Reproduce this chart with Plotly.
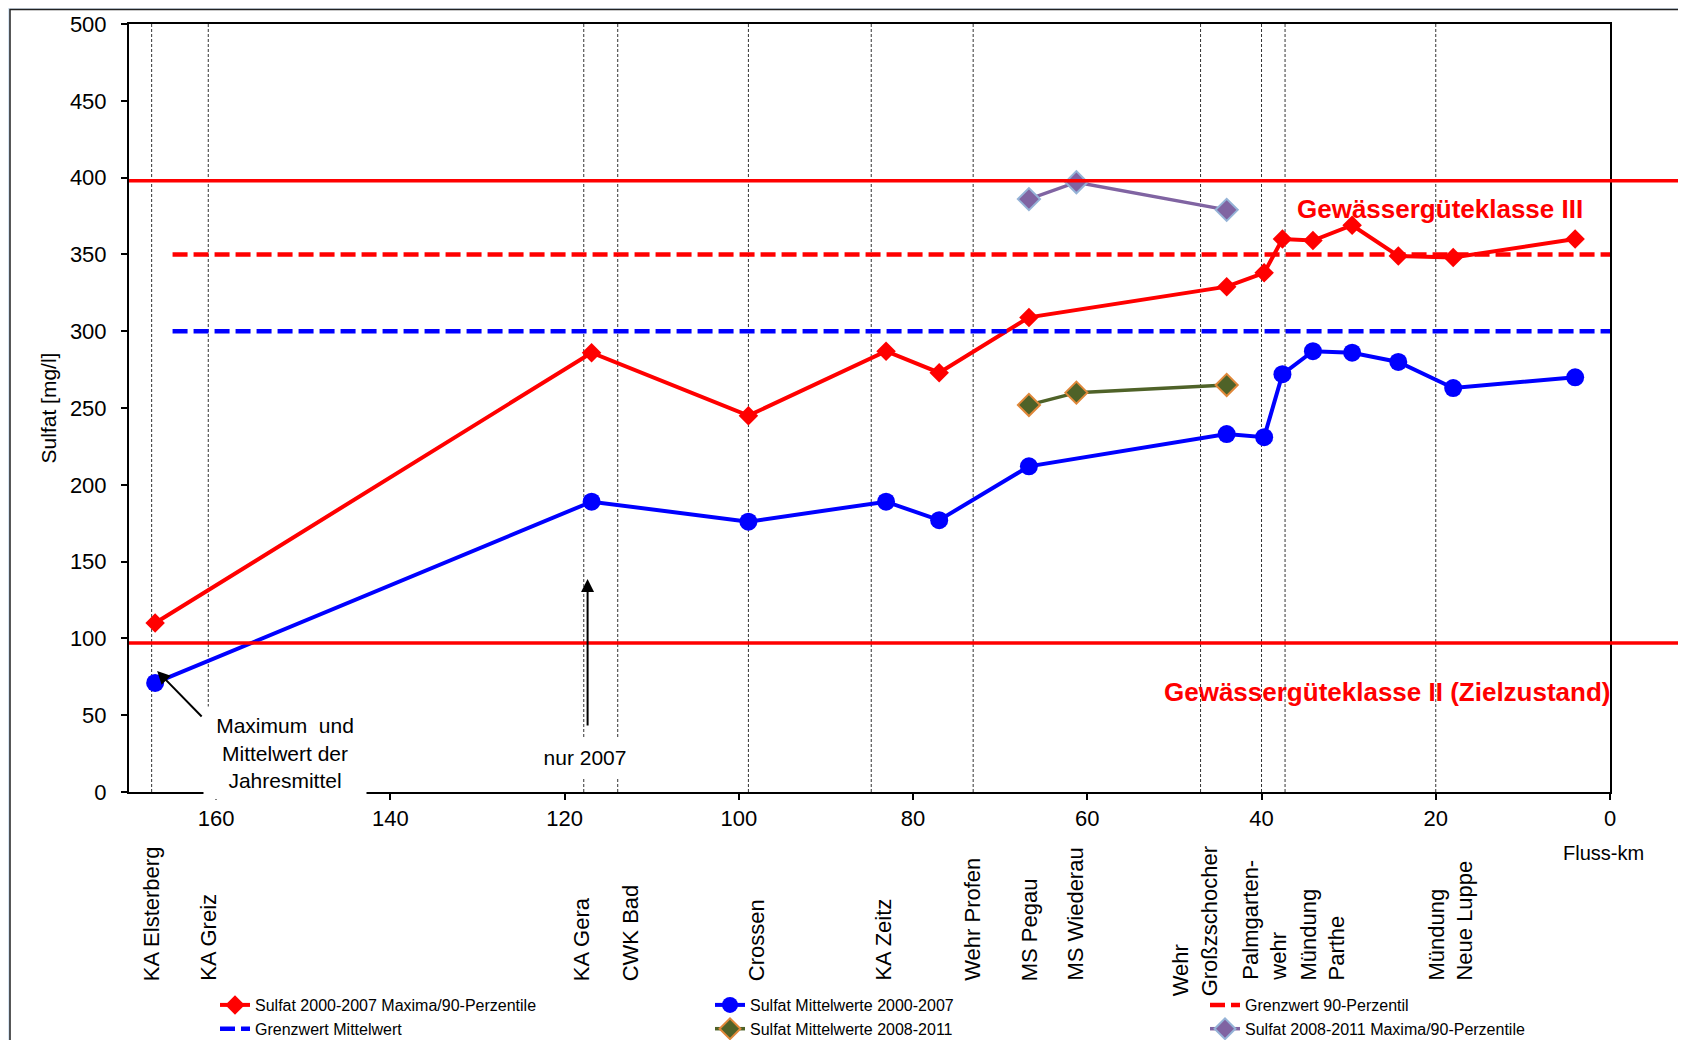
import plotly.graph_objects as go

# ---------------- data ----------------
fluss_km = [167.0, 116.9, 98.9, 83.1, 77.0, 66.7, 44.0, 39.7, 37.6, 34.1, 29.6, 24.3, 18.0, 4.0]
sulfat_max_2000_2007 = [110, 286, 245, 287, 273, 309, 329, 338, 360, 359, 369, 349, 348, 360]
sulfat_mittel_2000_2007 = [71, 189, 176, 189, 177, 212, 233, 231, 272, 287, 286, 280, 263, 270]

fluss_km_2008 = [66.7, 61.25, 44.0]
sulfat_mittel_2008_2011 = [252, 260, 265]
sulfat_max_2008_2011 = [386, 397, 379]

grenzwert_km = [165, 0]
grenzwert_90_perzentil = 350
grenzwert_mittelwert = 300

klassengrenzen = [398, 97]          # Gewässergüteklasse III / II boundaries

station_names = ["KA Elsterberg", "KA Greiz", "KA Gera", "CWK Bad", "Crossen", "KA Zeitz",
                 "Wehr Profen", "MS Pegau", "MS Wiederau", "Wehr<br>Großzschocher",
                 "Palmgarten-<br>wehr", "Mündung<br>Parthe", "Mündung<br>Neue Luppe"]
station_label_km = [167.4, 160.9, 118.1, 112.4, 98.0, 83.5, 73.2, 66.6, 61.4, 47.6, 39.7, 33.0, 18.3]
station_line_km = [167.4, 160.9, 117.8, 113.9, 98.9, 84.8, 73.1, 47.0, 40.0, 37.3, 20.0]

x_ticks = [0, 20, 40, 60, 80, 100, 120, 140, 160]
y_ticks = [0, 50, 100, 150, 200, 250, 300, 350, 400, 450, 500]

# ---------------- layout helpers (screen pixels; page body adds 8px offset) ----------------
OFF = 8
W, H = 1686 - OFF, 1040 - OFF
PL, PR, PT, PB = 129, 1610, 24, 792     # plot area in screen pixels


def px_x(p):
    return (p - PL) / (PR - PL)


def px_y(p):
    return (PB - p) / (PB - PT)


FONT = "Liberation Sans, Arial, sans-serif"
RED = "#ff0000"
BLUE = "#0000ff"
GREEN = "#4f6228"
PURPLE = "#8064a2"

fig = go.Figure()

fig.add_trace(go.Scatter(
    x=fluss_km, y=sulfat_max_2000_2007, mode="lines+markers",
    name="Sulfat 2000-2007 Maxima/90-Perzentile",
    line=dict(color=RED, width=4),
    marker=dict(symbol="diamond", size=15, color=RED)))

fig.add_trace(go.Scatter(
    x=fluss_km, y=sulfat_mittel_2000_2007, mode="lines+markers",
    name="Sulfat Mittelwerte 2000-2007",
    line=dict(color=BLUE, width=4),
    marker=dict(symbol="circle", size=18, color=BLUE)))

fig.add_trace(go.Scatter(
    x=grenzwert_km, y=[grenzwert_90_perzentil] * len(grenzwert_km), mode="lines",
    name="Grenzwert 90-Perzentil",
    line=dict(color=RED, width=4.5, dash="15px,6px")))

fig.add_trace(go.Scatter(
    x=grenzwert_km, y=[grenzwert_mittelwert] * len(grenzwert_km), mode="lines",
    name="Grenzwert Mittelwert",
    line=dict(color=BLUE, width=4.5, dash="15px,6px")))

fig.add_trace(go.Scatter(
    x=fluss_km_2008, y=sulfat_mittel_2008_2011, mode="lines+markers",
    name="Sulfat Mittelwerte 2008-2011",
    line=dict(color=GREEN, width=3.5),
    marker=dict(symbol="diamond", size=17, color=GREEN,
                line=dict(color="#e0883a", width=2))))

fig.add_trace(go.Scatter(
    x=fluss_km_2008, y=sulfat_max_2008_2011, mode="lines+markers",
    name="Sulfat 2008-2011 Maxima/90-Perzentile",
    line=dict(color=PURPLE, width=3.5),
    marker=dict(symbol="diamond", size=17, color=PURPLE,
                line=dict(color="#95b3d7", width=2))))

shapes = []
# white chart frame on a light blue page
shapes.append(dict(type="rect", xref="paper", yref="paper", layer="below",
                   x0=px_x(10), x1=px_x(1700), y0=px_y(1060), y1=px_y(9.5),
                   fillcolor="white", line=dict(color="#222222", width=1.5)))
# station dotted lines
for k in station_line_km:
    shapes.append(dict(type="line", xref="x", yref="paper", layer="below",
                       x0=k, x1=k, y0=0, y1=1,
                       line=dict(color="#333333", width=1, dash="3px,2px")))
# class boundaries
for v in klassengrenzen:
    shapes.append(dict(type="line", xref="paper", yref="y",
                       x0=0, x1=px_x(1690), y0=v, y1=v,
                       line=dict(color=RED, width=3.5)))

C = dict(xanchor="center", yanchor="middle", showarrow=False)
annotations = []
annotations.append(dict(text="Gewässergüteklasse III", xref="paper", yref="paper",
                        x=px_x(1440), y=px_y(209), **C,
                        font=dict(family=FONT, size=26, color=RED, weight="bold")))
annotations.append(dict(text="Gewässergüteklasse II (Zielzustand)", xref="paper", yref="paper",
                        x=px_x(1387), y=px_y(692), **C,
                        font=dict(family=FONT, size=26, color=RED, weight="bold")))
annotations.append(dict(text="Maximum  und<br>Mittelwert der<br>Jahresmittel",
                        xref="paper", yref="paper", x=px_x(285), y=px_y(753), **C,
                        bgcolor="white", width=158, height=88,
                        borderpad=2, font=dict(family=FONT, size=21, color="black")))
annotations.append(dict(text="", xref="x", yref="y", x=fluss_km[0], y=sulfat_mittel_2000_2007[0],
                        xshift=2, yshift=12, showarrow=True, ax=46, ay=47,
                        arrowhead=2, arrowsize=1.3, arrowwidth=2, arrowcolor="black"))
annotations.append(dict(text="nur 2007", xref="paper", yref="paper",
                        x=px_x(585), y=px_y(757.5), **C, bgcolor="white",
                        width=96, height=35, borderpad=2,
                        font=dict(family=FONT, size=21, color="black")))
annotations.append(dict(text="", xref="x", yref="paper", x=fluss_km[1], y=px_y(579),
                        xshift=-4, showarrow=True, ax=0, ay=148,
                        arrowhead=2, arrowsize=1.3, arrowwidth=2, arrowcolor="black"))
annotations.append(dict(text="Fluss-km", xref="paper", yref="paper",
                        x=px_x(1603), y=px_y(853), **C,
                        font=dict(family=FONT, size=20, color="black")))
for name, k in zip(station_names, station_label_km):
    bottom = 998 if "Großzschocher" in name else 983
    annotations.append(dict(text=name, xref="x", yref="paper", x=k, y=px_y(bottom),
                            xanchor="center", yanchor="bottom", textangle=-90,
                            align="left", showarrow=False,
                            font=dict(family=FONT, size=22, color="black")))

axis_common = dict(showgrid=False, zeroline=False, showline=True, linecolor="black",
                   linewidth=2, mirror=True, ticks="outside", ticklen=6, tickwidth=2,
                   automargin=False,
                   tickcolor="black", tickfont=dict(family=FONT, size=22, color="black"))

fig.update_layout(
    template="none",
    width=W, height=H,
    margin=dict(l=PL - OFF, r=(OFF + W) - PR, t=PT - OFF, b=(OFF + H) - PB),
    paper_bgcolor="#d8e5f2", plot_bgcolor="white",
    font=dict(family=FONT, color="black"),
    xaxis=dict(range=[170, 0], tickvals=x_ticks, ticklabelstandoff=0, **axis_common),
    yaxis=dict(range=[0, 500], tickvals=y_ticks, ticklabelstandoff=10,
               title=dict(text="Sulfat [mg/l]", font=dict(family=FONT, size=21), standoff=8),
               **axis_common),
    showlegend=True,
    legend=dict(orientation="h", xref="container", yref="container",
                x=(215 - OFF) / W, xanchor="left", y=1 - (988 - OFF) / H, yanchor="top",
                entrywidth=450, entrywidthmode="pixels",
                bgcolor="rgba(0,0,0,0)", font=dict(family=FONT, size=16, color="black")),
    shapes=shapes,
    annotations=annotations,
)

fig.write_html("out.html")
